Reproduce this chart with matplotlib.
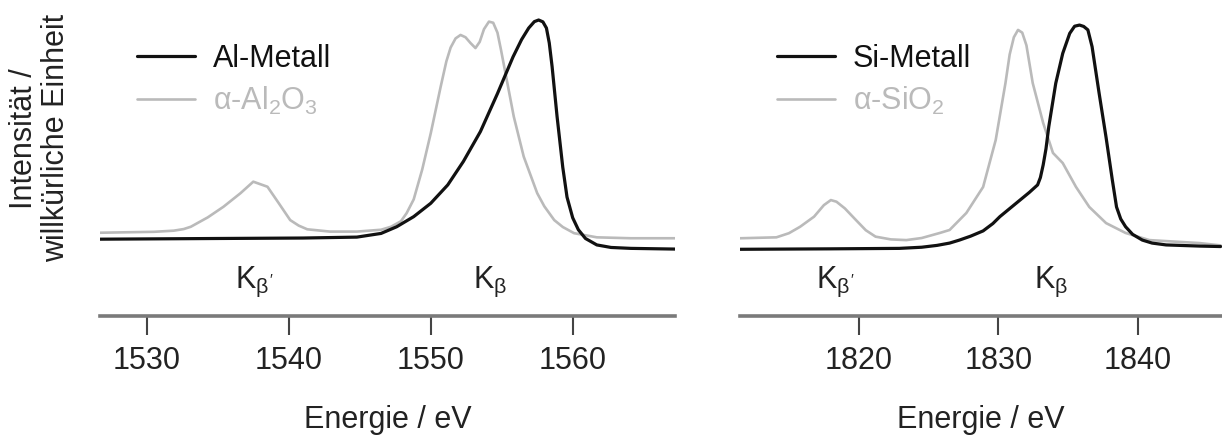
import matplotlib
matplotlib.use("Agg")
import matplotlib.pyplot as plt

plt.rcParams['font.family'] = ['Liberation Sans', 'DejaVu Sans']
plt.rcParams['mathtext.fontset'] = 'custom'
plt.rcParams['mathtext.rm'] = 'Liberation Sans'
plt.rcParams['mathtext.it'] = 'Liberation Sans'
plt.rcParams['mathtext.sf'] = 'Liberation Sans'
plt.rcParams['mathtext.bf'] = 'Liberation Sans:bold'

# Al K-beta: metal vs alpha-Al2O3 (arbitrary units)
al_metal_e = [1526.7, 1535.0, 1541.0, 1544.8, 1546.5, 1547.6, 1548.8, 1550.0, 1551.2, 1552.3,
              1553.5, 1554.7, 1555.8, 1556.4, 1556.9, 1557.3, 1557.6, 1557.9, 1558.15, 1558.35,
              1558.55, 1558.9, 1559.3, 1559.6, 1560.0, 1560.4, 1560.9, 1561.7, 1562.7, 1564.1,
              1567.2]
al_metal_i = [4.7, 5.0, 5.2, 5.6, 7.2, 10.1, 14.5, 20.3, 28.3, 38.5,
              51.5, 68.0, 84.0, 91.5, 96.5, 99.3, 100.0, 99.2, 96.5, 90.0,
              79.7, 58.0, 36.0, 23.0, 14.0, 8.8, 5.0, 2.2, 1.1, 0.7,
              0.4]

al2o3_e = [1526.7, 1530.5, 1531.9, 1532.6, 1533.1, 1534.3, 1535.4, 1536.6, 1537.5, 1538.5,
           1539.3, 1540.1, 1540.7, 1541.3, 1542.9, 1544.8, 1546.5, 1547.2, 1547.9, 1548.3,
           1548.8, 1549.4, 1550.0, 1550.7, 1551.1, 1551.4, 1551.75, 1552.1, 1552.45, 1552.8,
           1553.15, 1553.45, 1553.75, 1554.1, 1554.4, 1554.7, 1554.95, 1555.4, 1555.85, 1556.55,
           1557.5, 1558.0, 1558.7, 1559.3, 1560.1, 1561.7, 1564.1, 1567.2]
al2o3_i = [7.5, 7.9, 8.4, 9.1, 10.1, 14.2, 18.8, 24.7, 29.7, 27.5,
           20.3, 13.0, 10.6, 9.0, 8.0, 8.0, 8.8, 10.1, 12.5, 16.0,
           22.0, 35.0, 50.7, 71.0, 82.0, 88.0, 92.0, 93.5, 92.5, 90.0,
           87.8, 90.5, 96.0, 99.3, 98.8, 94.5, 87.0, 72.5, 58.0, 40.6,
           24.7, 19.0, 13.0, 10.0, 7.3, 5.5, 5.1, 5.1]

# Si K-beta: metal vs alpha-SiO2
si_metal_e = [1811.5, 1818.0, 1822.9, 1824.5, 1825.6, 1826.5, 1827.2, 1828.0, 1828.9, 1829.6,
              1830.1, 1830.6, 1831.3, 1832.2, 1832.8, 1833.0, 1833.2, 1833.4, 1833.6, 1834.1,
              1834.6, 1835.1, 1835.45, 1835.8, 1836.1, 1836.4, 1836.7, 1837.2, 1837.7, 1838.15,
              1838.45, 1838.75, 1839.1, 1839.6, 1840.3, 1841.0, 1842.0, 1844.4, 1845.9]
si_metal_i = [0.3, 0.5, 0.7, 1.2, 2.0, 3.0, 4.3, 6.0, 8.3, 11.5,
              14.5, 17.0, 20.5, 25.0, 28.3, 31.5, 37.0, 44.0, 53.6, 72.5,
              85.5, 94.2, 97.3, 97.8, 97.2, 95.7, 88.4, 68.3, 49.0, 30.4,
              18.7, 13.5, 10.1, 6.8, 4.3, 3.0, 2.2, 1.7, 1.5]

sio2_e = [1811.5, 1814.1, 1815.0, 1815.8, 1816.8, 1817.5, 1818.0, 1818.4, 1819.0, 1819.8,
          1820.5, 1821.2, 1822.3, 1823.4, 1824.5, 1825.8, 1826.5, 1827.7, 1828.9, 1829.8,
          1830.5, 1830.8, 1831.1, 1831.4, 1831.7, 1832.0, 1832.45, 1833.2, 1833.9, 1834.6,
          1835.55, 1836.5, 1837.7, 1839.1, 1840.8, 1844.4, 1845.9]
sio2_i = [5.1, 5.5, 7.3, 10.1, 14.5, 19.5, 21.7, 21.0, 18.1, 13.0,
          8.6, 5.8, 4.6, 4.3, 5.2, 7.4, 8.7, 16.1, 27.4, 47.8,
          72.6, 85.0, 92.5, 95.7, 94.5, 89.0, 72.6, 55.2, 42.2, 37.8,
          27.4, 18.7, 11.7, 7.4, 4.3, 3.0, 2.0]

al_ticks = [1530, 1540, 1550, 1560]
si_ticks = [1820, 1830, 1840]
al_labels = [(1537.6, r"K$_{\beta'}$"), (1554.2, r"K$_{\beta}$")]
si_labels = [(1818.3, r"K$_{\beta'}$"), (1833.8, r"K$_{\beta}$")]

BLACK = '#111111'
GRAY = '#bababa'
FS = 22

fig = plt.figure(figsize=(12.22, 4.43), dpi=100)
ax1 = fig.add_axes([0.0818, 0.2867, 0.4705, 0.7133])
ax2 = fig.add_axes([0.6056, 0.2867, 0.3944, 0.7133])

panels = [
    (ax1, al_metal_e, al_metal_i, al2o3_e, al2o3_i, 'Al-Metall', r'$\alpha$-Al$_2$O$_3$',
     (1526.7, 1567.2), al_ticks, al_labels, 0.064),
    (ax2, si_metal_e, si_metal_i, sio2_e, sio2_i, 'Si-Metall', r'$\alpha$-SiO$_2$',
     (1811.5, 1846.0), si_ticks, si_labels, 0.076),
]

for ax, me, mi, oe, oi, mlab, olab, xlim, ticks, klabels, lx in panels:
    ax.plot(oe, oi, color=GRAY, lw=1.9, label=olab, zorder=2,
            solid_joinstyle='round', solid_capstyle='round')
    ax.plot(me, mi, color=BLACK, lw=2.3, label=mlab, zorder=3,
            solid_joinstyle='round', solid_capstyle='round')
    ax.set_xlim(*xlim)
    ax.set_ylim(-28.7, 108.7)
    for s in ['left', 'right', 'top']:
        ax.spines[s].set_visible(False)
    ax.spines['bottom'].set_color('#7a7a7a')
    ax.spines['bottom'].set_linewidth(2.6)
    ax.set_yticks([])
    ax.set_xticks(ticks)
    ax.tick_params(axis='x', direction='out', length=13.5, width=1.5, color='#444444',
                   pad=8, labelsize=FS, labelcolor='#222222')
    for x, t in klabels:
        ax.text(x, -16.5, t, ha='center', va='baseline', fontsize=FS, color='#222222')
    h, l = ax.get_legend_handles_labels()
    ax.legend(h[::-1], l[::-1], loc='upper left', bbox_to_anchor=(lx, 0.861), frameon=False,
              fontsize=FS, handlelength=1.9, handletextpad=0.6, labelspacing=0.35,
              borderpad=0, borderaxespad=0, labelcolor='linecolor')
    ax.text(0.5, -0.355, 'Energie / eV', transform=ax.transAxes, ha='center', va='baseline',
            fontsize=FS, color='#222222')

fig.text(0.0327, 0.688, 'Intensität /\nwillkürliche Einheit', rotation=90, ha='center',
         va='center', multialignment='center', fontsize=FS, color='#222222', linespacing=1.1)

fig.savefig('out.png', dpi=100)
